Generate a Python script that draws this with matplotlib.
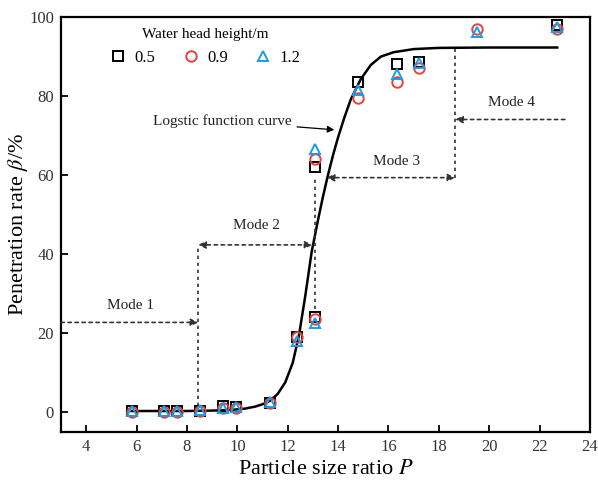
import numpy as np
import matplotlib.pyplot as plt

plt.rcParams['font.family'] = ['Liberation Serif', 'DejaVu Serif']
plt.rcParams['mathtext.fontset'] = 'stix'

# measured points (P, penetration rate %) for the three water head heights
P = [5.8, 7.1, 7.6, 8.5, 9.45, 9.95, 11.3, 12.35, 13.1, 13.1, 14.8, 16.35, 17.2, 19.5, 22.7]
h05 = [0.2, 0.2, 0.3, 0.4, 1.6, 1.2, 2.4, 19, 24, 62, 83.5, 88, 88.6, np.nan, 98]
h09 = [0.0, 0.0, 0.0, 0.2, 1.0, 1.0, 2.3, 19, 23.5, 64, 79.5, 83.5, 87, 97, 96.8]
h12 = [0.3, 0.3, 0.3, 0.5, 1.0, 1.3, 2.7, 18, 22.5, 66.5, 81.5, 85.5, 88.3, 96, 97.5]

# logistic fit curve
curve_p = [5.8, 7.0, 8.0, 9.0, 9.8, 10.3, 10.7, 11.0, 11.3, 11.6, 11.9, 12.2, 12.45,
           12.7, 12.95, 13.2, 13.4, 13.6, 13.8, 14.0, 14.25, 14.5, 14.9, 15.3, 15.7,
           16.2, 17.0, 18.0, 20.0, 22.7]
curve_b = [0.3, 0.3, 0.3, 0.4, 0.6, 0.9, 1.4, 2.0, 2.9, 4.6, 7.5, 12.5, 19.5,
           29.5, 40.5, 48.5, 54.5, 60, 65, 69.5, 74.5, 79, 84.2, 87.8, 89.9,
           91.0, 91.8, 92.1, 92.2, 92.2]

fig = plt.figure(figsize=(5.98, 4.87), dpi=100)
ax = fig.add_axes([0.102, 0.113, 0.8846, 0.8528])

ax.plot(curve_p, curve_b, color='black', lw=1.8, zorder=2)

ms = 7.5
ax.plot(P, h05, 's', mfc='none', mec='black', mew=1.4, ms=ms, ls='none', label='0.5', zorder=3)
ax.plot(P, h09, 'o', mfc='none', mec='#e8413b', mew=1.4, ms=ms, ls='none', label='0.9', zorder=3)
ax.plot(P, h12, '^', mfc='none', mec='#1d9be3', mew=1.4, ms=ms, ls='none', label='1.2', zorder=3)

dot = (0, (2, 2.2))
gray = '#333333'

# vertical boundaries between modes
ax.plot([8.45, 8.45], [1.5, 42.3], color=gray, lw=1.2, ls=dot)
ax.plot([13.1, 13.1], [26, 59.3], color=gray, lw=1.2, ls=dot)
ax.plot([18.65, 18.65], [59.3, 91.8], color=gray, lw=1.2, ls=dot)

def arrow(x0, y0, x1, y1, style='-|>'):
    ax.annotate('', xy=(x1, y1), xytext=(x0, y0),
                arrowprops=dict(arrowstyle=style, color=gray, lw=1.2, ls=dot,
                                mutation_scale=11, shrinkA=0, shrinkB=0))

arrow(3.0, 22.7, 8.45, 22.7)
arrow(8.45, 42.3, 12.98, 42.3, '<|-|>')
arrow(13.55, 59.3, 18.65, 59.3, '<|-|>')
arrow(23.0, 74.0, 18.65, 74.0)

fs = 11
ax.text(5.75, 27, 'Mode 1', fontsize=fs, ha='center', va='center', color='#222222')
ax.text(10.75, 47.2, 'Mode 2', fontsize=fs, ha='center', va='center', color='#222222')
ax.text(16.3, 63.5, 'Mode 3', fontsize=fs, ha='center', va='center', color='#222222')
ax.text(20.9, 78.3, 'Mode 4', fontsize=fs, ha='center', va='center', color='#222222')

ax.annotate('Logstic function curve', xy=(13.85, 71.4), xytext=(12.15, 73.6),
            fontsize=fs, ha='right', va='center', color='#222222',
            arrowprops=dict(arrowstyle='-|>', color='black', lw=0.9,
                            mutation_scale=10, shrinkA=2, shrinkB=0))

ax.set_xlim(3, 24)
ax.set_ylim(-5, 100)
ax.set_xticks(np.arange(4, 25, 2))
ax.set_yticks(np.arange(0, 101, 20))
ax.tick_params(direction='in', length=5, width=1.3, labelsize=12, pad=5,
               labelcolor='#333333')
for s in ax.spines.values():
    s.set_linewidth(1.6)

ax.set_xlabel('Particle size ratio $P$', fontsize=16, labelpad=4)
ax.set_ylabel(r'Penetration rate $\beta$/%', fontsize=16)
ax.yaxis.set_label_coords(-0.058, 0.5)

leg = ax.legend(title='Water head height/m', ncol=3, loc='upper left',
                bbox_to_anchor=(0.07, 1.0), frameon=False, fontsize=12,
                title_fontsize=11, handletextpad=0.5, columnspacing=1.6,
                handlelength=1.0, borderaxespad=0.3)

fig.savefig('out.png', dpi=100)
